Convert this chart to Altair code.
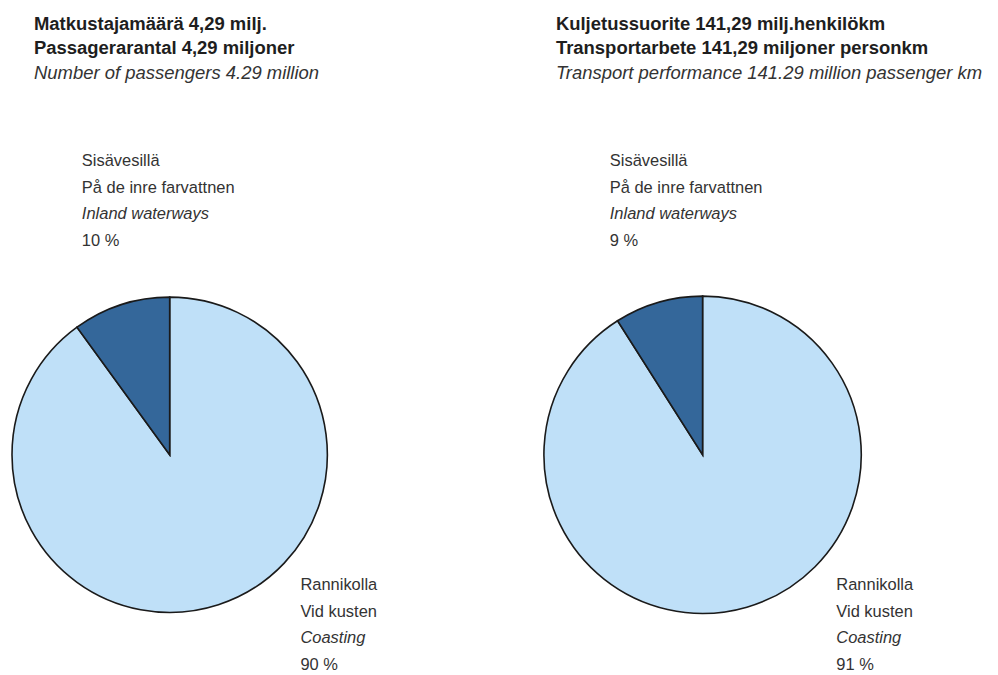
import altair as alt
import pandas as pd

# ---- data ----
panels = ["passengers", "transport"]
categories = ["Rannikolla", "Sisävesillä"]
shares_passengers = [90, 10]
shares_transport = [91, 9]

title_bold = {
    "passengers": ["Matkustajamäärä 4,29 milj.", "Passagerarantal 4,29 miljoner"],
    "transport": ["Kuljetussuorite 141,29 milj.henkilökm", "Transportarbete 141,29 miljoner personkm"],
}
title_italic = {
    "passengers": "Number of passengers 4.29 million",
    "transport": "Transport performance 141.29 million passenger km",
}
label_lines = {
    "Sisävesillä": ["Sisävesillä", "På de inre farvattnen", "Inland waterways"],
    "Rannikolla": ["Rannikolla", "Vid kusten", "Coasting"],
}
label_pct = {
    ("passengers", "Sisävesillä"): "10 %",
    ("passengers", "Rannikolla"): "90 %",
    ("transport", "Sisävesillä"): "9 %",
    ("transport", "Rannikolla"): "91 %",
}

# ---- layout ----
W, H = 982, 659
FONT = "Liberation Sans, Arial, sans-serif"
pie_center = {"passengers": (160, 447), "transport": (694, 447)}
pie_radius = {"passengers": 158, "transport": 159}
title_x = {"passengers": 24, "transport": 547}
title_y0, title_dy = 15, 24.5
label_anchor = {
    ("passengers", "Sisävesillä"): (72, 153),
    ("passengers", "Rannikolla"): (291, 578),
    ("transport", "Sisävesillä"): (601, 153),
    ("transport", "Rannikolla"): (828, 578),
}
label_dy = 26.5

# pie table
rows = []
for p, vals in zip(panels, [shares_passengers, shares_transport]):
    for i, (c, v) in enumerate(zip(categories, vals)):
        rows.append({"panel": p, "category": c, "value": v, "order": i})
pie_df = pd.DataFrame(rows)

# text tables
trows = []
for p in panels:
    for i, t in enumerate(title_bold[p]):
        trows.append({"text": t, "style": "title_bold", "px": title_x[p], "py": title_y0 + i * title_dy})
    trows.append({"text": title_italic[p], "style": "title_italic", "px": title_x[p], "py": title_y0 + 2 * title_dy})
    for c in categories:
        x0, y0 = label_anchor[(p, c)]
        lines = label_lines[c] + [label_pct[(p, c)]]
        for i, t in enumerate(lines):
            trows.append({"text": t, "style": "label_italic" if i == 2 else "label",
                          "px": x0, "py": y0 + i * label_dy})
text_df = pd.DataFrame(trows)

color_scale = alt.Scale(domain=categories, range=["#bfe0f8", "#34679a"])

layers = []
for p in panels:
    cx, cy = pie_center[p]
    layers.append(
        alt.Chart(pie_df).transform_filter(alt.datum.panel == p)
        .mark_arc(stroke="#1a1a1a", strokeWidth=1.6, radius=pie_radius[p])
        .encode(
            theta=alt.Theta("value:Q", stack=True),
            color=alt.Color("category:N", scale=color_scale, legend=None),
            order=alt.Order("order:Q"),
            x=alt.value(cx), y=alt.value(cy),
        )
    )

styles = {
    "title_bold": dict(fontSize=18.5, fontWeight="bold", color="#1e1e1e"),
    "title_italic": dict(fontSize=18.5, fontStyle="italic", color="#333333"),
    "label": dict(fontSize=16.5, color="#333333"),
    "label_italic": dict(fontSize=16.5, fontStyle="italic", color="#333333"),
}
for s, kw in styles.items():
    layers.append(
        alt.Chart(text_df).transform_filter(alt.datum.style == s)
        .mark_text(align="left", baseline="middle", font=FONT, **kw)
        .encode(
            x=alt.X("px:Q", scale=None),
            y=alt.Y("py:Q", scale=None),
            text="text:N",
        )
    )

chart = alt.layer(*layers).properties(width=W, height=H, padding=0, background="#ffffff").configure_view(stroke=None)

chart.save("out.html", embed_options={"renderer": "svg", "actions": False})
